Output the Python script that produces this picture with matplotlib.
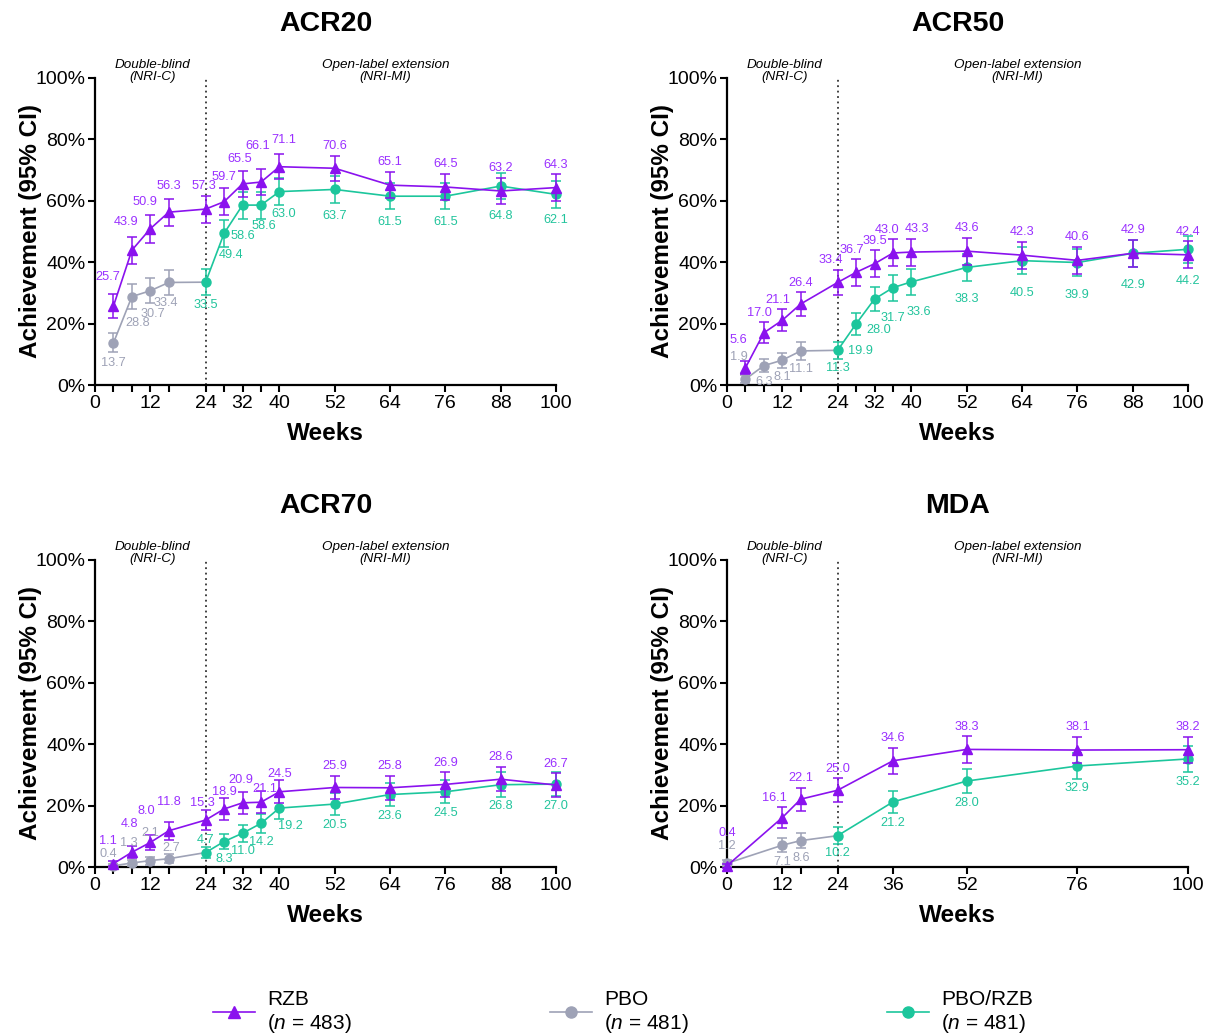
import numpy as np
import matplotlib
matplotlib.use("Agg")
import matplotlib.pyplot as plt
from matplotlib.lines import Line2D
from matplotlib.ticker import FuncFormatter

plt.rcParams['font.family'] = ['Liberation Sans', 'DejaVu Sans']
plt.rcParams['mathtext.fontset'] = 'custom'
plt.rcParams['mathtext.rm'] = 'Liberation Sans'
plt.rcParams['mathtext.it'] = 'Liberation Sans:italic'

# ---------------- data ----------------
panel_titles = ["ACR20", "ACR50", "ACR70", "MDA"]
series_names = ["RZB", "PBO", "PBO/RZB"]
series_n = [483, 481, 481]

acr_weeks_rzb = [4, 8, 12, 16, 24, 28, 32, 36, 40, 52, 64, 76, 88, 100]
acr_weeks_pbo = [4, 8, 12, 16]
acr_weeks_switch = [24, 28, 32, 36, 40, 52, 64, 76, 88, 100]
mda_weeks_rzb = [0, 12, 16, 24, 36, 52, 76, 100]
mda_weeks_pbo = [0, 12, 16]
mda_weeks_switch = [24, 36, 52, 76, 100]

acr20_rzb = [25.7, 43.9, 50.9, 56.3, 57.3, 59.7, 65.5, 66.1, 71.1, 70.6, 65.1, 64.5, 63.2, 64.3]
acr20_rzb_ci = [3.9, 4.4, 4.5, 4.4, 4.4, 4.4, 4.3, 4.3, 4.1, 4.1, 4.3, 4.3, 4.3, 4.3]
acr20_pbo = [13.7, 28.8, 30.7, 33.4]
acr20_pbo_ci = [3.1, 4.0, 4.1, 4.2]
acr20_switch = [33.5, 49.4, 58.6, 58.6, 63.0, 63.7, 61.5, 61.5, 64.8, 62.1]
acr20_switch_ci = [4.2, 4.5, 4.4, 4.4, 4.3, 4.3, 4.3, 4.3, 4.3, 4.3]

acr50_rzb = [5.6, 17.0, 21.1, 26.4, 33.4, 36.7, 39.5, 43.0, 43.3, 43.6, 42.3, 40.6, 42.9, 42.4]
acr50_rzb_ci = [2.1, 3.4, 3.6, 3.9, 4.2, 4.3, 4.4, 4.4, 4.4, 4.4, 4.4, 4.4, 4.4, 4.4]
acr50_pbo = [1.9, 6.3, 8.1, 11.1]
acr50_pbo_ci = [1.2, 2.2, 2.4, 2.8]
acr50_switch = [11.3, 19.9, 28.0, 31.7, 33.6, 38.3, 40.5, 39.9, 42.9, 44.2]
acr50_switch_ci = [2.8, 3.6, 4.0, 4.2, 4.2, 4.3, 4.4, 4.4, 4.4, 4.4]

acr70_rzb = [1.1, 4.8, 8.0, 11.8, 15.3, 18.9, 20.9, 21.1, 24.5, 25.9, 25.8, 26.9, 28.6, 26.7]
acr70_rzb_ci = [0.9, 1.9, 2.4, 2.9, 3.2, 3.5, 3.6, 3.6, 3.8, 3.9, 3.9, 4.0, 4.0, 3.9]
acr70_pbo = [0.4, 1.3, 2.1, 2.7]
acr70_pbo_ci = [0.6, 1.0, 1.3, 1.4]
acr70_switch = [4.7, 8.3, 11.0, 14.2, 19.2, 20.5, 23.6, 24.5, 26.8, 27.0]
acr70_switch_ci = [1.9, 2.5, 2.8, 3.1, 3.5, 3.6, 3.8, 3.8, 4.0, 4.0]

mda_rzb = [0.4, 16.1, 22.1, 25.0, 34.6, 38.3, 38.1, 38.2]
mda_rzb_ci = [0.6, 3.3, 3.7, 3.9, 4.2, 4.3, 4.3, 4.3]
mda_pbo = [1.2, 7.1, 8.6]
mda_pbo_ci = [1.0, 2.3, 2.5]
mda_switch = [10.2, 21.2, 28.0, 32.9, 35.2]
mda_switch_ci = [2.7, 3.7, 4.0, 4.2, 4.3]

acr_xticks = [0, 12, 24, 32, 40, 52, 64, 76, 88, 100]
acr_minor_xticks = [4, 8, 16, 28, 36]
mda_xticks = [0, 12, 24, 36, 52, 76, 100]
mda_minor_xticks = [16]
yticks = [0, 20, 40, 60, 80, 100]

# ---------------- style ----------------
C_RZB, C_PBO, C_SW = '#8A12EE', '#9EA2B6', '#1CC69C'
T_RZB, T_PBO, T_SW = '#9A30FF', '#9EA2B6', '#22C49C'

panels = [
    dict(title=panel_titles[0], wr=acr_weeks_rzb, r=acr20_rzb, rc=acr20_rzb_ci,
         wp=acr_weeks_pbo, p=acr20_pbo, pc=acr20_pbo_ci,
         ws=acr_weeks_switch, s=acr20_switch, sc=acr20_switch_ci,
         xt=acr_xticks, xm=acr_minor_xticks, sdef=(0, -5, 'below')),
    dict(title=panel_titles[1], wr=acr_weeks_rzb, r=acr50_rzb, rc=acr50_rzb_ci,
         wp=acr_weeks_pbo, p=acr50_pbo, pc=acr50_pbo_ci,
         ws=acr_weeks_switch, s=acr50_switch, sc=acr50_switch_ci,
         xt=acr_xticks, xm=acr_minor_xticks, sdef=(0, -9, 'below')),
    dict(title=panel_titles[2], wr=acr_weeks_rzb, r=acr70_rzb, rc=acr70_rzb_ci,
         wp=acr_weeks_pbo, p=acr70_pbo, pc=acr70_pbo_ci,
         ws=acr_weeks_switch, s=acr70_switch, sc=acr70_switch_ci,
         xt=acr_xticks, xm=acr_minor_xticks, sdef=(0, -2.5, 'below')),
    dict(title=panel_titles[3], wr=mda_weeks_rzb, r=mda_rzb, rc=mda_rzb_ci,
         wp=mda_weeks_pbo, p=mda_pbo, pc=mda_pbo_ci,
         ws=mda_weeks_switch, s=mda_switch, sc=mda_switch_ci,
         xt=mda_xticks, xm=mda_minor_xticks, sdef=(0, -2.5, 'below')),
]

# label offset overrides (panel, series, index) -> (dx_pt, dy_pt, 'above'/'below')
overrides = {
    # ACR20
    (0, 'r', 0): (-4, 8, 'above'), (0, 'r', 1): (-4, 6.5, 'above'), (0, 'r', 2): (-4, 5, 'above'),
    (0, 'r', 3): (0, 4.5, 'above'), (0, 'r', 4): (-1, 2.5, 'above'), (0, 'r', 5): (0, 4, 'above'),
    (0, 'r', 6): (-2, 4, 'above'), (0, 'r', 7): (-2, 12, 'above'), (0, 'r', 8): (3, 6, 'above'),
    (0, 'p', 0): (0, -3, 'below'), (0, 'p', 1): (4, -6, 'below'), (0, 'p', 2): (2, -3, 'below'),
    (0, 'p', 3): (-2, -1, 'below'),
    (0, 's', 0): (0, -2.5, 'below'), (0, 's', 1): (5, -1.5, 'below'), (0, 's', 2): (0, -8, 'below'),
    (0, 's', 3): (2, -1, 'below'), (0, 's', 4): (3, -2, 'below'), (0, 's', 8): (0, -8, 'below'),
    # ACR50
    (1, 'r', 0): (-5, 11, 'above'), (1, 'r', 1): (-3, 2.5, 'above'), (1, 'r', 2): (-3, 2.5, 'above'),
    (1, 'r', 4): (-5, 2.5, 'above'), (1, 'r', 5): (-3, 2.5, 'above'),
    (1, 'r', 7): (-4, 2.5, 'above'), (1, 'r', 8): (4, 2.5, 'above'),
    (1, 'p', 0): (-5, 9, 'above'),
    (1, 's', 0): (0, -2.5, 'below'), (1, 's', 1): (3, -7, 'below'), (1, 's', 2): (3, -9, 'below'),
    (1, 's', 3): (0, -8, 'below'), (1, 's', 4): (5, -8, 'below'),
    # ACR70
    (2, 'r', 0): (-4, 10, 'above'), (2, 'r', 1): (-2, 12, 'above'), (2, 'r', 2): (-3, 13, 'above'),
    (2, 'r', 3): (0, 10, 'above'), (2, 'r', 4): (-2, 1, 'above'), (2, 'r', 5): (0, 0, 'above'),
    (2, 'r', 6): (-1, 4, 'above'), (2, 'r', 7): (3, -3, 'above'), (2, 'r', 8): (0, 0, 'above'),
    (2, 'p', 0): (-4, 3, 'above'), (2, 'p', 1): (-2, 8, 'above'), (2, 'p', 2): (0, 13, 'above'),
    (2, 'p', 3): (2, 0.5, 'above'),
    (2, 's', 0): (0, 0.5, 'above'), (2, 's', 4): (8, -1, 'below'),
    # MDA
    (3, 'r', 0): (0, 18, 'above'), (3, 'r', 1): (-6, 2.5, 'above'),
    (3, 'p', 0): (0, 6, 'above'),
}

fig = plt.figure(figsize=(12.10, 10.35), dpi=100)
W, H = 1210.0, 1035.0
boxes = [(95, 78), (727, 78), (95, 560), (727, 560)]
aw, ah = 461, 307


def place_labels(ax, pi, key, xs, ys, cis, color, default):
    for i, (x, y, c) in enumerate(zip(xs, ys, cis)):
        dx, dy, where = overrides.get((pi, key, i), default)
        if where == 'above':
            anchor, va = y + c, 'bottom'
        else:
            anchor, va = y - c, 'top'
        ax.annotate(f"{y:.1f}", (x, anchor), xytext=(dx, dy), textcoords='offset points',
                    ha='center', va=va, fontsize=9.2, color=color, zorder=10,
                    annotation_clip=False)


for pi, pan in enumerate(panels):
    x0, y0 = boxes[pi]
    ax = fig.add_axes([x0 / W, 1 - (y0 + ah) / H, aw / W, ah / H])
    ax.set_xlim(0, 100)
    ax.set_ylim(0, 100)
    for sp in ['top', 'right']:
        ax.spines[sp].set_visible(False)
    for sp in ['left', 'bottom']:
        ax.spines[sp].set_linewidth(1.6)

    ax.axvline(24, color='#333333', ls=(0, (1, 2)), lw=1.3, zorder=1)

    # PBO line continues to the first PBO/RZB point
    ax.plot(list(pan['wp']) + [pan['ws'][0]], list(pan['p']) + [pan['s'][0]],
            color=C_PBO, lw=1.2, zorder=2, clip_on=False)
    ax.errorbar(pan['wp'], pan['p'], yerr=pan['pc'], fmt='o', color=C_PBO, ms=6.5,
                capsize=3.5, elinewidth=1.1, capthick=1.1, zorder=3, clip_on=False)
    ax.errorbar(pan['ws'], pan['s'], yerr=pan['sc'], fmt='o-', color=C_SW, ms=6.5, lw=1.2,
                capsize=3.5, elinewidth=1.1, capthick=1.1, zorder=4, clip_on=False)
    ax.errorbar(pan['wr'], pan['r'], yerr=pan['rc'], fmt='^-', color=C_RZB, ms=7, lw=1.2,
                capsize=3.5, elinewidth=1.1, capthick=1.1, zorder=5, clip_on=False)

    place_labels(ax, pi, 'r', pan['wr'], pan['r'], pan['rc'], T_RZB, (0, 2.5, 'above'))
    place_labels(ax, pi, 'p', pan['wp'], pan['p'], pan['pc'], T_PBO, (0, -2.5, 'below'))
    place_labels(ax, pi, 's', pan['ws'], pan['s'], pan['sc'], T_SW, pan['sdef'])

    ax.set_xticks(pan['xt'])
    ax.set_xticks(pan['xm'], minor=True)
    ax.set_yticks(yticks)
    ax.yaxis.set_major_formatter(FuncFormatter(lambda v, p: f"{int(v)}%"))
    ax.tick_params(axis='both', which='both', length=5, width=1.5, labelsize=14, pad=2,
                   direction='out', color='black')

    ax.set_title(pan['title'], fontsize=20.5, fontweight='bold', pad=34)
    ax.set_ylabel("Achievement (95% CI)", fontsize=17.5, fontweight='bold')
    ax.yaxis.set_label_coords(-0.115, 0.5)
    ax.set_xlabel("Weeks", fontsize=17.5, fontweight='bold')
    ax.xaxis.set_label_coords(0.5, -0.122)

    ax.text(12.5, 98.3, "Double-blind\n(NRI-C)", ha='center', va='bottom', fontsize=9.7,
            style='italic', linespacing=1.05)
    ax.text(63, 98.3, "Open-label extension\n(NRI-MI)", ha='center', va='bottom', fontsize=9.7,
            style='italic', linespacing=1.05)

handles = [
    Line2D([], [], color=C_RZB, marker='^', ms=9, lw=1.2),
    Line2D([], [], color=C_PBO, marker='o', ms=8, lw=1.2),
    Line2D([], [], color=C_SW, marker='o', ms=8, lw=1.2),
]
labels = [f"{nm}\n($\\mathit{{n}}$ = {n})" for nm, n in zip(series_names, series_n)]
fig.legend(handles, labels, loc='center', bbox_to_anchor=(0.515, 0.022), ncol=3,
           frameon=False, fontsize=15, handlelength=2.0, handletextpad=0.6,
           columnspacing=9.5)

fig.savefig("out.png", dpi=100)
